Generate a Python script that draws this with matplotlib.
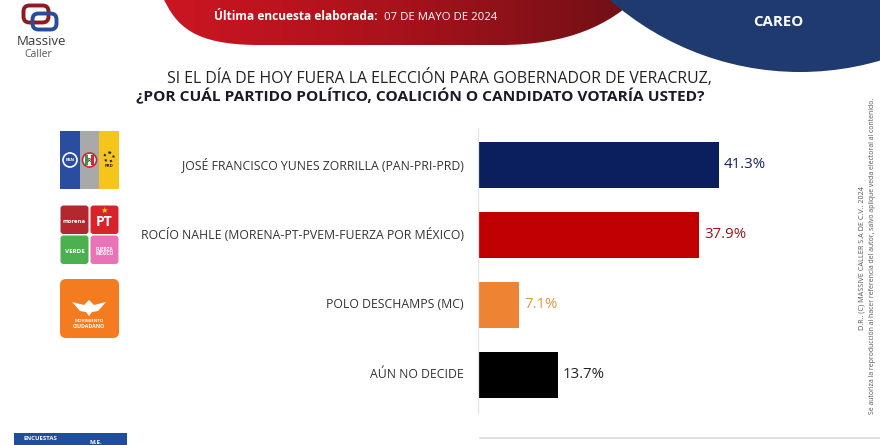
import matplotlib
matplotlib.use('Agg')
import matplotlib.pyplot as plt
import numpy as np
from matplotlib.patches import FancyBboxPatch, Rectangle, Circle, PathPatch, Polygon
from matplotlib.path import Path
from matplotlib.colors import LinearSegmentedColormap

# ---------------- data ----------------
categories = ["JOSÉ FRANCISCO YUNES ZORRILLA (PAN-PRI-PRD)",
              "ROCÍO NAHLE (MORENA-PT-PVEM-FUERZA POR MÉXICO)",
              "POLO DESCHAMPS (MC)",
              "AÚN NO DECIDE"]
values = [41.3, 37.9, 7.1, 13.7]
value_labels = ["41.3%", "37.9%", "7.1%", "13.7%"]
bar_colors = ["#0b1f5e", "#c00000", "#ee8433", "#000000"]
label_colors = ["#14225a", "#9e1219", "#e0993a", "#222222"]

title_line1 = "SI EL DÍA DE HOY FUERA LA ELECCIÓN PARA GOBERNADOR DE VERACRUZ,"
title_line2 = "¿POR CUÁL PARTIDO POLÍTICO, COALICIÓN O CANDIDATO VOTARÍA USTED?"
header_bold = "Última encuesta elaborada:"
header_date = "07 DE MAYO DE 2024"
section = "CAREO"
copyright1 = "D.R.. (C) MASSIVE CALLER S.A DE C.V.. 2024"
copyright2 = ("Se autoriza la reproducción al hacer referencia del autor, "
              "salvo aplique veda electoral al contenido.")

FONT = ['Open Sans', 'DejaVu Sans']
plt.rcParams['font.family'] = FONT

W, H = 880, 445
fig = plt.figure(figsize=(8.8, 4.45), dpi=100)
bg = fig.add_axes([0, 0, 1, 1])
bg.set_xlim(0, W)
bg.set_ylim(H, 0)
bg.axis('off')
renderer = fig.canvas.get_renderer()


def fit_w(t, width):
    w = t.get_window_extent(renderer).width
    t.set_fontsize(t.get_fontsize() * width / w)


def fit_h(t, height):
    h = t.get_window_extent(renderer).height
    t.set_fontsize(t.get_fontsize() * height / h)


# ---------------- header ----------------
red_path = Path([(162, -5), (176, 28), (196, 44), (255, 45), (500, 45),
                 (568, 45), (610, 25), (640, -5), (162, -5)],
                [Path.MOVETO, Path.CURVE4, Path.CURVE4, Path.CURVE4, Path.LINETO,
                 Path.CURVE4, Path.CURVE4, Path.CURVE4, Path.CLOSEPOLY])
red_patch = PathPatch(red_path, facecolor='none', edgecolor='none')
bg.add_patch(red_patch)
grad = np.linspace(0, 1, 256).reshape(1, -1)
cmap = LinearSegmentedColormap.from_list('r', ['#cc1622', '#a8121c', '#6c1015'])
im = bg.imshow(grad, extent=(160, 645, 46, -5), cmap=cmap, aspect='auto', zorder=1)
im.set_clip_path(red_patch)

blue = Circle((800, -215), 287, facecolor='#1f3a6e', edgecolor='none', zorder=2)
bg.add_patch(blue)

tb = bg.text(378, 17, header_bold, ha='right', va='center', color='white',
             fontweight='bold', fontsize=9, zorder=3)
fit_w(tb, 163)
td = bg.text(384, 17, header_date, ha='left', va='center', color='white',
             fontsize=9, zorder=3)
fit_w(td, 113)
tc = bg.text(778, 22, section, ha='center', va='center', color='white',
             fontweight='bold', fontsize=10, zorder=3)
fit_w(tc, 50)

# Massive Caller logo
bg.add_patch(FancyBboxPatch((26, 8), 20, 12, boxstyle='round,pad=2.5,rounding_size=6',
                            facecolor='none', edgecolor='#8e1a22', lw=2.8, zorder=3))
bg.add_patch(FancyBboxPatch((35, 16), 19, 11, boxstyle='round,pad=2.5,rounding_size=6',
                            facecolor='none', edgecolor='#2a4a9a', lw=2.8, zorder=3))
tm = bg.text(41, 41.5, "Massive", ha='center', va='center', color='#3a3a3a', fontsize=8)
fit_w(tm, 50)
tcl = bg.text(38, 54.5, "Caller", ha='center', va='center', color='#555555', fontsize=7)
fit_w(tcl, 28)

# ---------------- title ----------------
t1 = bg.text(439, 78, title_line1, ha='center', va='center', color='#222222', fontsize=11)
fit_w(t1, 546)
t2 = bg.text(420.5, 96, title_line2, ha='center', va='center', color='#1a1a2a',
             fontweight='bold', fontsize=11)
fit_w(t2, 567)

# ---------------- party logos ----------------
# PAN-PRI-PRD
for x0, col in [(60, '#2b4da0'), (79.7, '#a9a9a9'), (99.3, '#f6c51b')]:
    bg.add_patch(Rectangle((x0, 131), 19.7, 58, facecolor=col, edgecolor='none'))
bg.add_patch(Circle((70, 160), 7, facecolor='#2b4da0', edgecolor='white', lw=1.2))
bg.text(70, 160, "PAN", ha='center', va='center', color='white', fontsize=3.2, fontweight='bold')
bg.add_patch(Circle((89.5, 160), 7, facecolor='white', edgecolor='#c6262e', lw=1.2))
bg.add_patch(Rectangle((85, 155), 3, 10, facecolor='#2f9a48', edgecolor='none'))
bg.add_patch(Rectangle((91, 155), 3, 10, facecolor='#d2262e', edgecolor='none'))
bg.text(89.5, 160, "R", ha='center', va='center', color='#333333', fontsize=3.5, fontweight='bold')
bg.add_patch(Circle((109, 157), 4.5, facecolor='#f6c51b', edgecolor='#222222', lw=1.5, ls=':'))
bg.text(109, 166, "PRD", ha='center', va='center', color='#222222', fontsize=3.2, fontweight='bold')

# MORENA-PT-PVEM-FM
sq = [((60.5, 205.5), '#b2282e', 'morena', 4.2),
      ((90.5, 205.5), '#d9232a', 'PT', 10),
      ((60.5, 235.5), '#4caf50', 'VERDE', 4.5),
      ((90.5, 235.5), '#ea73b8', 'FUERZA\nMÉXICO', 3.4)]
for (x0, y0), col, txt, fs in sq:
    bg.add_patch(FancyBboxPatch((x0 + 1.5, y0 + 1.5), 25, 25.5,
                                boxstyle='round,pad=1.5,rounding_size=3',
                                facecolor=col, edgecolor='none'))
    bg.text(x0 + 14, y0 + 16, txt, ha='center', va='center', color='white',
            fontsize=fs, fontweight='bold', linespacing=0.9)
bg.text(104.5, 210, "★", ha='center', va='center', color='#f6d31b', fontsize=6,
        family=['DejaVu Sans'])

# MC
bg.add_patch(FancyBboxPatch((62, 281), 55, 55, boxstyle='round,pad=2,rounding_size=6',
                            facecolor='#f47b20', edgecolor='none'))
bg.add_patch(Polygon([(72, 302), (84, 305), (89, 300), (94, 305), (106, 302),
                      (98, 311), (92, 312), (89, 316), (86, 312), (80, 311)],
                     closed=True, facecolor='white', edgecolor='none'))
bg.text(89, 321, "MOVIMIENTO", ha='center', va='center', color='white', fontsize=3.2,
        fontweight='bold')
bg.text(89, 326, "CIUDADANO", ha='center', va='center', color='white', fontsize=3.8,
        fontweight='bold')

# ---------------- bars ----------------
ax = fig.add_axes([478 / W, 1 - 412.6 / H, 291.5 / W, 284.6 / H])
ax.patch.set_alpha(0)
y = np.arange(len(values))
ax.barh(y, values, height=0.657, color=bar_colors, zorder=2)
ax.set_xlim(0, 50)
ax.set_ylim(3.543, -0.523)
for s in ['top', 'right', 'bottom']:
    ax.spines[s].set_visible(False)
ax.spines['left'].set_color('#e4e4e4')
ax.spines['left'].set_linewidth(0.9)
ax.set_xticks([])
ax.set_yticks([])

cat_texts = []
for i, c in enumerate(categories):
    t = ax.annotate(c, xy=(0, i), xytext=(-14, 0), textcoords='offset pixels',
                    ha='right', va='center', color='#333333', fontsize=8)
    cat_texts.append(t)
ref = cat_texts[1].get_window_extent(renderer).width
for t in cat_texts:
    t.set_fontsize(8 * 322 / ref)

val_texts = []
for i, (v, lbl, col) in enumerate(zip(values, value_labels, label_colors)):
    t = ax.annotate(lbl, xy=(v, i), xytext=(5, 0), textcoords='offset pixels',
                    ha='left', va='center', color=col, fontsize=12)
    val_texts.append(t)
ref = val_texts[0].get_window_extent(renderer).width
for t in val_texts:
    t.set_fontsize(12 * 42 / ref)

# ---------------- footer / side ----------------
r1 = bg.text(862, 258, copyright1, rotation=90, ha='center', va='center',
             color='#555555', fontsize=5)
fit_h(r1, 145)
r2 = bg.text(873, 256, copyright2, rotation=90, ha='center', va='center',
             color='#555555', fontsize=5)
fit_h(r2, 323)

bg.plot([480, 880], [438, 438], color='#dcdcdc', lw=1.2)
bg.add_patch(Rectangle((14, 433), 113, 13, facecolor='#1f4e9c', edgecolor='none'))
bg.text(23, 438, "ENCUESTAS", ha='left', va='center', color='white', fontsize=4.3,
        fontweight='bold')
bg.text(90, 442, "M.E.", ha='left', va='center', color='white', fontsize=4.5,
        fontweight='bold')

fig.savefig('out.png', dpi=100)
